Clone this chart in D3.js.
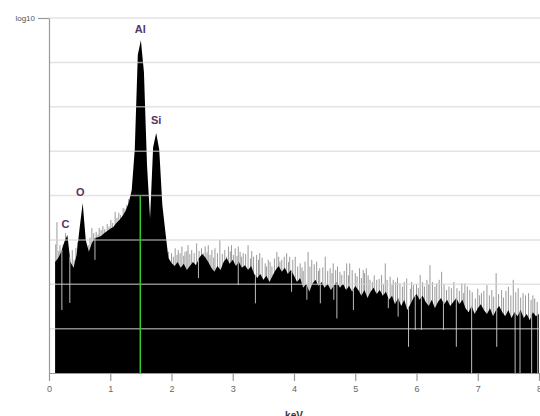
<!DOCTYPE html>
<html>
<head>
<meta charset="utf-8">
<script src="https://cdn.jsdelivr.net/npm/d3@7/dist/d3.min.js"></script>
<style>
  html, body { margin: 0; padding: 0; background: #fff; }
  svg { display: block; font-family: "Liberation Sans", Arial, sans-serif; }
</style>
</head>
<body>
<svg id="chart" width="540" height="416"></svg>
<script>
// ---- data ----
const keVTicks = [0, 1, 2, 3, 4, 5, 6, 7, 8];
const gridLevels = [1, 2, 3, 4, 5, 6, 7, 8];
const topLabel = "log10";
const axisTitle = "keV";

// black body of the spectrum, one value every 0.05 keV from 0 keV (log10 units)
const envStep = 0.05;
const envelope = [
  null, null,
  2.50, 2.59, 2.73, 2.95, 3.11, 2.50, 2.37, 2.66,
  3.27, 3.83, 3.00, 2.73, 2.93, 3.04, 3.06, 3.09, 3.15, 3.20,
  3.25, 3.29, 3.38, 3.45, 3.54, 3.65, 3.83, 4.12, 5.03, 7.17,
  7.50, 6.78, 4.69, 3.49, 5.09, 5.41, 5.03, 3.79, 3.18, 2.59,
  2.48, 2.41, 2.50, 2.37, 2.46, 2.32, 2.41, 2.50, 2.43, 2.59,
  2.68, 2.61, 2.50, 2.37, 2.28, 2.41, 2.32, 2.50, 2.59, 2.46,
  2.55, 2.41, 2.50, 2.37, 2.43, 2.32, 2.41, 2.23, 2.14, 2.23,
  2.10, 2.19, 2.05, 2.19, 2.32, 2.41, 2.28, 2.37, 2.23, 2.32,
  2.19, 2.05, 2.14, 1.92, 2.01, 1.83, 2.01, 2.10, 1.96, 2.05,
  1.92, 2.01, 1.87, 1.96, 2.05, 1.92, 2.01, 1.87, 1.96, 1.83,
  1.96, 1.87, 1.74, 1.87, 1.69, 1.83, 1.92, 1.78, 1.87, 1.74,
  1.83, 1.65, 1.74, 1.55, 1.69, 1.51, 1.65, 1.42, 1.55, 1.69,
  1.78, 1.65, 1.74, 1.60, 1.51, 1.65, 1.46, 1.60, 1.69, 1.55,
  1.65, 1.51, 1.60, 1.69, 1.55, 1.65, 1.46, 1.37, 1.51, 1.33,
  1.46, 1.55, 1.42, 1.33, 1.46, 1.28, 1.42, 1.51, 1.37, 1.28,
  1.42, 1.24, 1.37, 1.28, 1.42, 1.24, 1.33, 1.19, 1.37, 1.28,
  1.33
];

// single-channel spikes above the body: [keV, level]
const spikes = [
  [0.11, 2.90], [0.13, 3.40], [0.16, 2.75], [0.18, 2.88], [0.23, 2.90],
  [0.27, 3.15], [0.38, 2.77], [0.41, 2.55], [0.44, 2.82], [0.47, 2.95],
  [0.64, 2.88], [0.67, 3.05], [0.70, 3.27], [0.73, 3.15], [0.77, 3.18],
  [0.80, 3.12], [0.82, 3.27], [0.85, 3.22], [0.88, 3.31], [0.91, 3.24],
  [0.95, 3.36], [0.98, 3.30], [1.01, 3.45], [1.04, 3.38], [1.08, 3.63],
  [1.11, 3.50], [1.14, 3.61], [1.17, 3.56], [1.21, 3.72], [1.24, 3.70],
  [1.27, 3.79], [1.30, 3.92],
  [1.95, 2.73], [2.00, 2.70], [2.03, 2.62], [2.06, 2.81], [2.09, 2.66],
  [2.11, 2.77], [2.14, 2.70], [2.17, 2.85], [2.20, 2.64], [2.22, 2.73],
  [2.25, 2.75], [2.27, 2.88], [2.30, 2.68], [2.33, 2.77], [2.37, 2.70],
  [2.41, 2.92], [2.45, 2.75], [2.49, 2.81], [2.52, 2.70], [2.55, 2.85],
  [2.58, 2.72], [2.60, 2.88], [2.63, 2.66], [2.66, 2.77], [2.69, 2.60],
  [2.71, 2.81], [2.75, 2.70], [2.79, 3.00], [2.83, 2.68], [2.87, 2.77],
  [2.90, 2.62], [2.93, 2.85], [2.96, 2.74], [2.98, 2.88], [3.01, 2.66],
  [3.04, 2.81], [3.07, 2.64], [3.09, 2.85], [3.12, 2.73], [3.14, 2.62],
  [3.17, 2.70], [3.21, 2.68], [3.25, 2.88], [3.29, 2.58], [3.31, 2.75],
  [3.34, 2.62], [3.39, 2.66], [3.42, 2.55], [3.44, 2.70], [3.48, 2.60],
  [3.53, 2.47], [3.55, 2.40], [3.58, 2.55], [3.61, 2.50], [3.64, 2.40],
  [3.68, 2.58], [3.72, 2.73], [3.75, 2.62], [3.77, 2.51], [3.80, 2.55],
  [3.84, 2.62], [3.88, 2.70], [3.91, 2.50], [3.93, 2.62], [3.98, 2.55],
  [4.02, 2.62], [4.06, 2.40], [4.10, 2.47], [4.13, 2.38], [4.15, 2.30],
  [4.18, 2.51], [4.23, 2.73], [4.26, 2.40], [4.29, 2.55], [4.33, 2.45],
  [4.37, 2.51], [4.40, 2.30], [4.42, 2.36], [4.47, 2.38], [4.51, 2.62],
  [4.55, 2.30], [4.59, 2.36], [4.62, 2.25], [4.64, 2.47], [4.68, 2.32],
  [4.71, 2.40], [4.75, 2.28], [4.78, 2.21], [4.82, 2.30], [4.86, 2.47],
  [4.89, 2.20], [4.91, 2.47], [4.95, 2.32], [5.00, 2.25], [5.03, 2.18],
  [5.07, 2.36], [5.10, 2.14], [5.13, 2.32], [5.15, 2.25], [5.18, 2.36],
  [5.21, 2.20], [5.24, 2.10], [5.28, 2.05], [5.31, 2.20], [5.35, 2.10],
  [5.39, 2.12], [5.43, 2.21], [5.46, 2.00], [5.49, 2.47], [5.52, 2.10],
  [5.57, 2.17], [5.60, 1.98], [5.62, 2.10], [5.66, 2.05], [5.69, 2.15],
  [5.73, 2.02], [5.77, 1.95], [5.80, 2.05], [5.84, 2.13], [5.90, 1.90],
  [5.92, 2.05], [5.95, 1.98], [6.00, 2.00], [6.03, 1.92], [6.06, 2.21],
  [6.10, 2.05], [6.13, 1.95], [6.17, 2.10], [6.20, 2.00], [6.22, 2.43],
  [6.26, 2.05], [6.30, 1.95], [6.33, 2.02], [6.37, 2.10], [6.41, 2.28],
  [6.45, 2.00], [6.49, 1.87], [6.53, 1.95], [6.57, 1.91], [6.61, 2.05],
  [6.66, 1.91], [6.70, 1.85], [6.74, 2.02], [6.77, 1.80], [6.79, 2.02],
  [6.83, 1.95], [6.87, 1.87], [6.91, 1.82], [6.96, 1.68], [7.00, 1.90],
  [7.03, 1.75], [7.06, 1.80], [7.10, 1.85], [7.15, 1.98], [7.19, 1.75],
  [7.23, 1.87], [7.26, 1.72], [7.30, 2.25], [7.34, 1.78], [7.39, 1.87],
  [7.42, 1.70], [7.46, 1.85], [7.50, 1.94], [7.54, 1.75], [7.58, 2.10],
  [7.62, 1.82], [7.66, 1.91], [7.70, 1.70], [7.74, 1.80], [7.78, 1.75],
  [7.83, 1.80], [7.87, 1.65], [7.90, 1.75], [7.93, 1.68], [7.97, 1.60]
];

// single-channel drops below the body: [keV, level]
const dips = [
  [0.21, 1.42], [0.34, 1.58], [0.75, 2.55], [2.44, 2.14], [3.09, 1.98],
  [3.37, 1.57], [3.96, 1.83], [4.21, 1.65], [4.43, 1.57], [4.65, 1.65],
  [4.70, 1.23], [4.97, 1.42], [5.54, 1.46], [5.70, 1.27], [5.87, 0.59],
  [5.98, 0.97], [6.08, 0.97], [6.44, 0.97], [6.65, 0.59], [6.90, 0.00],
  [7.31, 0.59], [7.61, 0.00], [7.69, 0.00], [7.88, 0.00], [7.98, 0.00]
];

// element peak labels: [name, keV, level]
const peakLabels = [
  ["C", 0.27, 3.35], ["O", 0.51, 4.07], ["Al", 1.49, 7.74], ["Si", 1.75, 5.7]
];

// cursor marker
const markerKeV = 1.49;
const markerLevel = 4;

// ---- chart ----
const svg = d3.select("#chart");
const x = d3.scaleLinear().domain([0, 8]).range([49, 539]);
const y = d3.scaleLinear().domain([0, 8]).range([373, 18]);

const envPoints = envelope.map((v, i) => ({ k: i * envStep, v }));

function envAt(k) {
  const i = Math.floor(k / envStep);
  const a = envelope[i], b = envelope[Math.min(i + 1, envelope.length - 1)];
  if (a == null || b == null) return a == null ? b : a;
  const t = (k - i * envStep) / envStep;
  return a + (b - a) * t;
}

// spikes (drawn under body)
svg.append("g")
  .selectAll("line")
  .data(spikes)
  .join("line")
  .attr("x1", d => x(d[0])).attr("x2", d => x(d[0]))
  .attr("y1", y(0)).attr("y2", d => y(d[1]))
  .attr("stroke", "#9a9a9a")
  .attr("stroke-width", 1);

// body
const area = d3.area()
  .defined(d => d.v != null)
  .x(d => x(d.k))
  .y0(y(0))
  .y1(d => y(d.v));

svg.append("path")
  .datum(envPoints)
  .attr("d", area)
  .attr("fill", "#000");

// dips
svg.append("g")
  .selectAll("line")
  .data(dips)
  .join("line")
  .attr("x1", d => x(d[0])).attr("x2", d => x(d[0]))
  .attr("y1", d => y(d[1])).attr("y2", d => y(envAt(d[0])))
  .attr("stroke", "#bdbdbd")
  .attr("stroke-width", 1);

// gridlines
svg.append("g")
  .selectAll("line")
  .data(gridLevels)
  .join("line")
  .attr("x1", x(0)).attr("x2", 540)
  .attr("y1", d => y(d)).attr("y2", d => y(d))
  .attr("stroke", "#d4d4d4")
  .attr("stroke-opacity", 0.65)
  .attr("stroke-width", 1.5);

// marker
svg.append("line")
  .attr("x1", x(markerKeV)).attr("x2", x(markerKeV))
  .attr("y1", y(markerLevel)).attr("y2", y(0))
  .attr("stroke", "#2ecc2e")
  .attr("stroke-width", 1.5);

// axes
const xAxis = svg.append("g")
  .attr("transform", `translate(0,${y(0)})`)
  .call(d3.axisBottom(x).tickValues(keVTicks).tickFormat(d3.format("d"))
    .tickSize(8).tickSizeOuter(0).tickPadding(5));
xAxis.selectAll("path, line").attr("stroke", "#999").attr("stroke-width", 1.2);
xAxis.selectAll("text").attr("fill", "#666").attr("font-size", 9)
  .attr("font-family", "Liberation Sans, Arial, sans-serif");

const yAxis = svg.append("g")
  .attr("transform", `translate(${x(0)},0)`)
  .call(d3.axisLeft(y).tickValues([8]).tickFormat(() => topLabel)
    .tickSize(11).tickSizeOuter(0).tickPadding(3));
yAxis.selectAll("path, line").attr("stroke", "#999").attr("stroke-width", 1.2);
yAxis.selectAll("text").attr("fill", "#555").attr("font-size", 8)
  .attr("font-family", "Liberation Sans, Arial, sans-serif");

svg.append("text")
  .attr("x", x(4)).attr("y", 419)
  .attr("text-anchor", "middle")
  .attr("font-size", 10).attr("font-weight", "bold")
  .attr("fill", "#333")
  .text(axisTitle);

// peak labels
svg.append("g")
  .selectAll("text")
  .data(peakLabels)
  .join("text")
  .attr("x", d => x(d[1])).attr("y", d => y(d[2]))
  .attr("text-anchor", "middle")
  .attr("dy", "0.35em")
  .attr("font-size", 11).attr("font-weight", "bold")
  .attr("fill", "#553366")
  .text(d => d[0]);
</script>
</body>
</html>
